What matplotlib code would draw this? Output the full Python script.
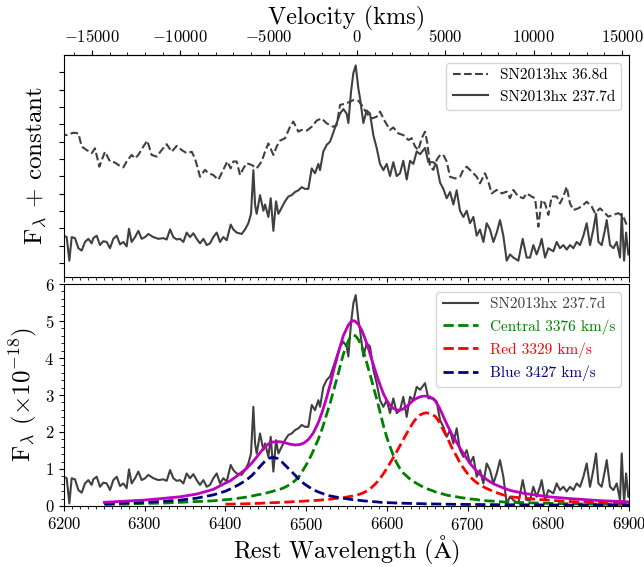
import numpy as np
import matplotlib
matplotlib.use('Agg')
import matplotlib.pyplot as plt
from matplotlib.ticker import MultipleLocator, FixedLocator, NullFormatter

plt.rcParams['font.family'] = 'serif'
plt.rcParams['font.serif'] = ['cmr10']
plt.rcParams['mathtext.fontset'] = 'cm'
plt.rcParams['axes.formatter.use_mathtext'] = True

# SN2013hx 237.7d spectrum (rest wavelength, flux x1e-18)
wave_237 = [6200.0, 6203.3, 6206.6, 6209.5, 6213.6, 6217.8, 6221.9, 6226.0, 6230.1, 6234.3,
            6236.3, 6240.5, 6244.6, 6248.7, 6252.9, 6257.0, 6261.1, 6265.3, 6269.4, 6273.5,
            6277.6, 6280.5, 6283.8, 6288.0, 6292.1, 6296.2, 6300.4, 6304.5, 6310.7, 6316.9,
            6323.1, 6327.2, 6331.4, 6335.5, 6339.6, 6343.7, 6347.9, 6352.0, 6356.1, 6360.3,
            6364.4, 6368.5, 6372.7, 6376.8, 6380.9, 6385.0, 6389.2, 6393.3, 6397.4, 6401.6,
            6406.5, 6409.8, 6413.9, 6420.1, 6424.3, 6428.4, 6431.7, 6434.6, 6436.7, 6438.7,
            6442.9, 6447.0, 6449.1, 6453.2, 6456.1, 6459.4, 6462.7, 6465.6, 6469.7, 6473.8,
            6478.0, 6482.1, 6486.2, 6490.4, 6494.5, 6498.6, 6502.7, 6506.9, 6511.0, 6515.1,
            6517.2, 6521.3, 6525.5, 6529.6, 6533.7, 6537.9, 6542.0, 6546.1, 6550.2, 6552.3,
            6555.6, 6558.5, 6561.4, 6564.7, 6566.7, 6570.9, 6575.0, 6579.1, 6583.3, 6587.4,
            6591.5, 6595.7, 6599.8, 6603.9, 6608.0, 6612.2, 6616.3, 6620.4, 6624.6, 6628.7,
            6632.8, 6637.0, 6641.1, 6647.3, 6651.4, 6657.6, 6661.7, 6665.9, 6670.0, 6674.1,
            6678.3, 6682.4, 6686.5, 6690.6, 6694.8, 6698.9, 6703.0, 6707.2, 6711.3, 6715.4,
            6719.6, 6723.7, 6727.8, 6732.0, 6736.1, 6740.2, 6744.3, 6748.5, 6752.6, 6756.7,
            6762.9, 6768.3, 6773.2, 6777.4, 6781.5, 6785.6, 6789.8, 6791.8, 6796.0, 6800.1,
            6806.3, 6810.4, 6814.5, 6818.7, 6822.8, 6826.9, 6831.1, 6835.2, 6839.3, 6843.5,
            6847.6, 6851.7, 6855.8, 6859.2, 6862.1, 6866.2, 6870.3, 6872.4, 6876.5, 6880.7,
            6884.8, 6888.9, 6891.0, 6893.9, 6896.4, 6899.2]
flux_237 = [0.79, 0.75, 0.07, 0.75, 0.72, 0.43, 0.36, 0.61, 0.70, 0.57,
            0.72, 0.79, 0.52, 0.63, 0.61, 0.43, 0.70, 0.79, 0.54, 0.61,
            0.48, 0.99, 0.61, 0.75, 0.93, 0.70, 0.75, 0.84, 0.75, 0.70,
            0.72, 0.68, 0.97, 0.75, 0.68, 0.70, 0.61, 0.88, 0.75, 0.86,
            0.70, 0.57, 0.70, 0.52, 0.57, 0.75, 0.88, 0.61, 0.75, 0.66,
            1.11, 0.97, 0.88, 0.84, 0.97, 1.15, 1.42, 2.68, 1.69, 1.42,
            1.96, 1.51, 1.69, 1.33, 1.87, 0.93, 1.78, 1.42, 1.60, 1.78,
            1.92, 1.96, 2.05, 2.10, 2.19, 2.14, 2.14, 2.73, 2.59, 2.86,
            2.68, 3.22, 3.41, 3.50, 3.77, 4.04, 4.31, 4.44, 4.31, 4.04,
            4.94, 5.48, 5.70, 5.03, 4.76, 4.04, 4.40, 4.31, 3.68, 3.32,
            2.86, 2.68, 2.86, 2.51, 2.91, 2.51, 2.59, 2.95, 2.41, 2.95,
            2.86, 3.22, 3.14, 3.32, 2.91, 2.91, 2.82, 2.32, 2.14, 1.87,
            2.05, 1.69, 2.10, 1.51, 1.33, 1.51, 1.15, 1.33, 0.79, 0.97,
            0.61, 1.15, 0.97, 0.61, 0.88, 1.24, 0.79, 0.07, 0.25, 0.16,
            0.07, 0.70, 0.16, 0.16, 0.52, 0.25, 0.52, 0.70, 0.16, 0.43,
            0.34, 0.61, 0.43, 0.52, 0.39, 0.52, 0.43, 0.61, 0.52, 0.79,
            1.15, 0.52, 0.97, 1.42, 0.61, 0.52, 0.97, 1.24, 0.52, 0.43,
            0.61, 0.16, 1.42, 0.07, 0.88, 0.25]

# SN2013hx 36.8d spectrum, shifted (flux + constant)
wave_37 = [6195.0, 6203.3, 6211.6, 6217.8, 6221.9, 6228.1, 6234.3, 6238.4, 6243.8, 6246.7,
           6250.8, 6257.0, 6263.2, 6267.3, 6273.5, 6277.6, 6283.8, 6287.9, 6292.1, 6298.3,
           6303.2, 6308.6, 6314.8, 6321.0, 6327.2, 6333.4, 6339.6, 6345.8, 6352.0, 6358.2,
           6362.3, 6368.5, 6374.7, 6378.8, 6385.0, 6391.2, 6397.4, 6402.4, 6406.5, 6409.8,
           6413.9, 6418.1, 6422.2, 6426.3, 6432.5, 6438.7, 6444.9, 6449.0, 6453.2, 6459.4,
           6463.5, 6467.6, 6473.8, 6480.0, 6484.1, 6490.3, 6494.5, 6500.7, 6506.9, 6513.1,
           6519.2, 6525.4, 6533.7, 6537.8, 6542.0, 6550.2, 6558.5, 6564.7, 6568.8, 6575.0,
           6581.2, 6587.4, 6591.5, 6597.7, 6603.9, 6608.0, 6614.2, 6620.4, 6626.6, 6630.8,
           6634.9, 6639.0, 6643.2, 6647.3, 6650.2, 6653.5, 6657.6, 6661.7, 6665.9, 6670.0,
           6674.1, 6678.3, 6684.5, 6690.6, 6694.8, 6698.9, 6705.1, 6711.3, 6715.4, 6721.6,
           6725.7, 6729.9, 6736.1, 6742.3, 6748.5, 6752.6, 6756.7, 6762.9, 6769.1, 6773.2,
           6779.4, 6783.6, 6787.7, 6791.8, 6796.0, 6800.1, 6804.2, 6810.4, 6814.5, 6818.7,
           6822.8, 6826.9, 6831.1, 6837.3, 6843.5, 6847.6, 6853.8, 6857.9, 6864.1, 6870.3,
           6874.4, 6880.6, 6886.8, 6893.0, 6898.0]
flux_37 = [3.74, 3.69, 3.76, 3.74, 3.36, 3.26, 3.17, 3.31, 2.78, 2.97,
           3.21, 2.93, 2.90, 2.83, 2.76, 2.93, 3.12, 3.02, 3.12, 3.36,
           3.53, 3.12, 3.07, 3.26, 3.43, 3.21, 3.38, 3.26, 3.17, 3.21,
           3.02, 2.49, 2.69, 2.59, 2.54, 2.40, 2.69, 2.93, 2.73, 2.93,
           2.93, 2.54, 2.73, 2.88, 2.83, 2.73, 2.93, 3.21, 3.45, 3.12,
           3.36, 3.53, 3.60, 3.93, 4.08, 3.79, 3.84, 3.82, 3.93, 4.11,
           4.17, 4.03, 3.93, 3.98, 4.56, 4.61, 4.70, 4.68, 4.56, 4.32,
           4.17, 4.22, 4.37, 4.08, 3.84, 3.91, 3.74, 3.69, 3.55, 3.60,
           3.36, 3.26, 3.60, 3.79, 3.45, 2.78, 2.69, 2.97, 3.12, 3.12,
           2.93, 2.49, 2.44, 2.49, 2.69, 2.78, 2.64, 2.49, 2.30, 2.59,
           2.35, 2.01, 2.11, 2.01, 2.06, 1.87, 2.11, 1.92, 1.87, 2.01,
           1.92, 1.87, 1.05, 1.82, 1.72, 1.39, 1.92, 1.92, 1.72, 1.92,
           2.20, 1.72, 1.53, 1.58, 1.68, 1.77, 1.63, 1.44, 1.58, 1.44,
           1.34, 1.39, 1.44, 1.34, 1.05]

# fit components
fit_wave = [6250, 6275, 6300, 6325, 6344, 6364, 6385, 6400, 6406, 6416,
            6426, 6433, 6439, 6445, 6449, 6454, 6459, 6465, 6470, 6475,
            6480, 6486, 6492, 6497, 6503, 6509, 6515, 6520, 6525, 6530,
            6535, 6540, 6546, 6552, 6555, 6558, 6561, 6565, 6569, 6573,
            6577, 6581, 6585, 6588, 6592, 6596, 6600, 6604, 6608, 6612,
            6616, 6620, 6625, 6629, 6633, 6637, 6641, 6645, 6649, 6653,
            6657, 6660, 6665, 6670, 6675, 6680, 6686, 6691, 6697, 6703,
            6709, 6715, 6724, 6732, 6744, 6753, 6770, 6786, 6805, 6827,
            6860, 6900]
central = [0.04, 0.05, 0.07, 0.08, 0.10, 0.12, 0.14, 0.17, 0.18, 0.21,
           0.24, 0.27, 0.30, 0.32, 0.34, 0.37, 0.40, 0.44, 0.47, 0.52,
           0.58, 0.68, 0.82, 1.00, 1.22, 1.50, 1.80, 2.10, 2.45, 2.80,
           3.20, 3.60, 4.10, 4.45, 4.57, 4.62, 4.60, 4.49, 4.30, 4.04,
           3.72, 3.41, 3.08, 2.85, 2.50, 2.15, 1.85, 1.60, 1.37, 1.17,
           1.02, 0.90, 0.80, 0.72, 0.66, 0.61, 0.56, 0.51, 0.47, 0.44,
           0.41, 0.38, 0.35, 0.32, 0.29, 0.27, 0.25, 0.23, 0.21, 0.19,
           0.18, 0.16, 0.14, 0.13, 0.11, 0.10, 0.09, 0.08, 0.07, 0.06,
           0.05, 0.04]
red = [None, None, None, None, None, None, None, 0.05, 0.05, 0.055,
       0.06, 0.065, 0.07, 0.075, 0.08, 0.085, 0.09, 0.095, 0.10, 0.105,
       0.11, 0.12, 0.125, 0.13, 0.14, 0.145, 0.155, 0.165, 0.175, 0.185,
       0.20, 0.21, 0.22, 0.25, 0.26, 0.27, 0.29, 0.31, 0.34, 0.38,
       0.43, 0.50, 0.58, 0.65, 0.76, 0.88, 1.02, 1.16, 1.31, 1.46,
       1.62, 1.78, 1.98, 2.13, 2.27, 2.38, 2.46, 2.50, 2.52, 2.50,
       2.46, 2.42, 2.27, 2.05, 1.84, 1.60, 1.36, 1.15, 0.96, 0.79,
       0.67, 0.57, 0.47, 0.39, 0.30, 0.25, 0.21, 0.18, 0.15, 0.12,
       0.09, 0.07]
blue = [0.06, 0.08, 0.10, 0.13, 0.16, 0.21, 0.30, 0.40, 0.46, 0.57,
        0.70, 0.83, 0.97, 1.12, 1.21, 1.29, 1.32, 1.28, 1.19, 1.08,
        0.97, 0.84, 0.70, 0.61, 0.52, 0.44, 0.38, 0.34, 0.30, 0.27,
        0.25, 0.23, 0.21, 0.19, 0.18, 0.17, 0.165, 0.155, 0.145, 0.135,
        0.13, 0.12, 0.115, 0.11, 0.10, 0.095, 0.09, 0.088, 0.085, 0.08,
        0.078, 0.075, 0.072, 0.07, 0.068, 0.065, 0.063, 0.06, 0.058, 0.056,
        0.055, 0.054, 0.052, 0.05, 0.048, 0.047, 0.045, 0.044, 0.042, 0.041,
        0.04, 0.039, 0.037, 0.036, 0.034, 0.033, 0.031, 0.029, 0.027, 0.025,
        0.023, 0.02]
total = [0.10, 0.13, 0.16, 0.21, 0.25, 0.32, 0.45, 0.62, 0.68, 0.84,
         1.01, 1.17, 1.33, 1.50, 1.60, 1.69, 1.73, 1.74, 1.73, 1.70,
         1.67, 1.65, 1.66, 1.70, 1.80, 1.98, 2.25, 2.55, 2.90, 3.30,
         3.75, 4.15, 4.60, 4.88, 4.97, 5.01, 4.99, 4.90, 4.75, 4.52,
         4.27, 3.98, 3.70, 3.50, 3.25, 3.02, 2.85, 2.72, 2.64, 2.60,
         2.59, 2.62, 2.70, 2.78, 2.86, 2.91, 2.95, 2.97, 2.97, 2.95,
         2.90, 2.84, 2.66, 2.42, 2.18, 1.96, 1.74, 1.55, 1.35, 1.15,
         1.00, 0.86, 0.71, 0.60, 0.49, 0.42, 0.34, 0.29, 0.24, 0.20,
         0.15, 0.11]

fit_labels = ['Central 3376 km/s', 'Red 3329 km/s', 'Blue 3427 km/s']
fit_colors = ['green', 'red', 'navy']
vel_ticks = [-15000, -10000, -5000, 0, 5000, 10000, 15000]

c_kms = 299792.458
lam0 = 6563.0


def to_vel(lam):
    return c_kms * (lam - lam0) / lam0


def to_wave(v):
    return lam0 * (1 + v / c_kms)


fig = plt.figure(figsize=(6.44, 5.67), dpi=100)
ax1 = fig.add_axes([0.0994, 0.5115, 0.8773, 0.3915])
ax2 = fig.add_axes([0.0994, 0.1076, 0.8773, 0.3915])

spec_col = '0.25'

# top panel
ax1.plot(wave_37, flux_37, '--', color=spec_col, lw=1.5, label='SN2013hx 36.8d')
ax1.plot(wave_237, flux_237, '-', color=spec_col, lw=1.5, label='SN2013hx 237.7d')
ax1.set_xlim(6200, 6900)
ax1.set_ylim(-0.4, 6.0)
ax1.set_yticks(np.arange(0, 5.6, 0.5))
ax1.yaxis.set_major_formatter(NullFormatter())
ax1.xaxis.set_major_locator(MultipleLocator(100))
ax1.xaxis.set_minor_locator(MultipleLocator(10))
ax1.xaxis.set_major_formatter(NullFormatter())
ax1.tick_params(which='both', top=False, right=False, direction='out')
ax1.set_ylabel(r'F$_\lambda$ + constant', fontsize=18)
ax1.legend(loc='upper right', fontsize=11, handlelength=2.3)

sec = ax1.secondary_xaxis('top', functions=(to_vel, to_wave))
sec.xaxis.set_major_locator(FixedLocator(vel_ticks))
sec.xaxis.set_minor_locator(MultipleLocator(1000))
sec.tick_params(which='both', direction='out', labelsize=12)
sec.set_xlabel('Velocity (kms)', fontsize=17.5, labelpad=3)

# bottom panel
ax2.plot(wave_237, flux_237, '-', color=spec_col, lw=1.5, label='SN2013hx 237.7d')
for vals, lab, col in zip([central, red, blue], fit_labels, fit_colors):
    ax2.plot(fit_wave, np.array(vals, dtype=float), '--', color=col, lw=2, label=lab)
ax2.plot(fit_wave, total, '-', color='m', lw=2)
ax2.set_xlim(6200, 6900)
ax2.set_ylim(0, 6)
ax2.xaxis.set_major_locator(MultipleLocator(100))
ax2.xaxis.set_minor_locator(MultipleLocator(10))
ax2.yaxis.set_major_locator(MultipleLocator(1))
ax2.yaxis.set_minor_locator(MultipleLocator(0.2))
ax2.tick_params(which='both', top=False, right=False, direction='out', labelsize=12)
ax2.set_xlabel(r'Rest Wavelength ($\mathrm{\AA}$)', fontsize=17.5, labelpad=1)
ax2.set_ylabel(r'F$_\lambda$ ($\times10^{-18}$)', fontsize=18)
leg = ax2.legend(loc='upper right', fontsize=11, handlelength=2.3)
for txt, col in zip(leg.get_texts(), [spec_col] + fit_colors):
    txt.set_color(col)

fig.savefig('out.png', dpi=100)
